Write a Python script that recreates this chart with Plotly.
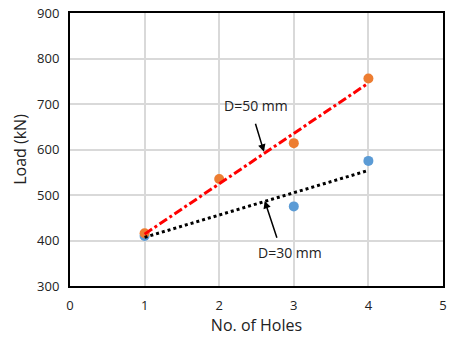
import plotly.graph_objects as go

holes_50 = [1, 2, 3, 4]
load_50 = [416, 535, 614, 756]
holes_30 = [1, 3, 4]
load_30 = [410, 475, 575]
trend_x = [1, 4]
trend_50 = [414, 746]
trend_30 = [407, 554]

fig = go.Figure()
fig.add_trace(go.Scatter(x=holes_30, y=load_30, mode="markers",
                         marker=dict(color="#5B9BD5", size=10), showlegend=False))
fig.add_trace(go.Scatter(x=holes_50, y=load_50, mode="markers",
                         marker=dict(color="#ED7D31", size=10), showlegend=False))
fig.add_trace(go.Scatter(x=trend_x, y=trend_50, mode="lines",
                         line=dict(color="#FF0000", width=3, dash="dashdot"), showlegend=False))
fig.add_trace(go.Scatter(x=trend_x, y=trend_30, mode="lines",
                         line=dict(color="#000000", width=3, dash="dot"), showlegend=False))

fig.add_annotation(x=2.6, y=595, ax=2.48, ay=660, xref="x", yref="y", axref="x", ayref="y",
                   text="", showarrow=True, arrowhead=2, arrowsize=1, arrowwidth=1.5, arrowcolor="black")
fig.add_annotation(x=2.49, y=696, text="D=50 mm", showarrow=False, font=dict(size=14, color="#222"))
fig.add_annotation(x=2.61, y=487, ax=2.78, ay=403, xref="x", yref="y", axref="x", ayref="y",
                   text="", showarrow=True, arrowhead=2, arrowsize=1, arrowwidth=1.5, arrowcolor="black")
fig.add_annotation(x=2.95, y=374, text="D=30 mm", showarrow=False, font=dict(size=14, color="#222"))

fig.update_layout(
    width=449, height=343,
    margin=dict(l=70, r=6, t=13, b=57),
    paper_bgcolor="white", plot_bgcolor="white",
    font=dict(family="Open Sans", size=13, color="#222"),
)
fig.update_xaxes(range=[0, 5], dtick=1, showgrid=True, gridcolor="#D9D9D9", gridwidth=1.5,
                 showline=True, linecolor="black", linewidth=2, mirror=True, zeroline=False,
                 automargin=False, ticklabeloverflow="allow",
                 title=dict(text="No. of Holes", standoff=6), ticks="outside", ticklen=6, tickcolor="white")
fig.update_yaxes(range=[300, 900], dtick=100, showgrid=True, gridcolor="#D9D9D9", gridwidth=1.5,
                 showline=True, linecolor="black", linewidth=2, mirror=True, zeroline=False,
                 automargin=False, ticklabeloverflow="allow",
                 title=dict(text="Load (kN)", standoff=6), ticks="outside", ticklen=6, tickcolor="white")

fig.write_html("out.html", config={"displayModeBar": False},
               post_script="document.body.style.margin='0';document.body.style.overflow='hidden';")
